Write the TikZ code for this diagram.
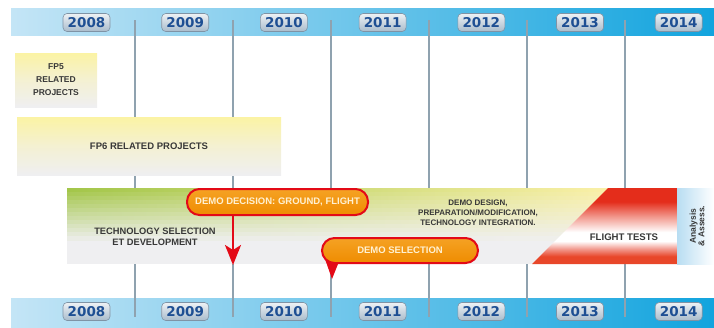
\documentclass[tikz,border=0pt]{standalone}
\usepackage{fontspec}
\setmainfont{Liberation Sans}
\newfontfamily\yearfont{DejaVu Sans}
\usetikzlibrary{arrows.meta}

\definecolor{bandlight}{HTML}{C4E5F6}
\definecolor{banddark}{HTML}{12A4DE}
\definecolor{yearblue}{HTML}{1E4F93}
\definecolor{yeartop}{HTML}{EDF1F5}
\definecolor{yearbot}{HTML}{A9BBCB}
\definecolor{yearedge}{HTML}{7F93A5}
\definecolor{gridgray}{HTML}{8FA2AF}
\definecolor{boxgray}{HTML}{EFEFF1}
\definecolor{fpyellow}{HTML}{FBF3A4}
\definecolor{bargreen}{HTML}{A3C64A}
\definecolor{baryellow}{HTML}{FAF0A8}
\definecolor{pillorange}{HTML}{EF8C00}
\definecolor{pilllight}{HTML}{F5A224}
\definecolor{pillred}{HTML}{E30A17}
\definecolor{pilltext}{HTML}{FFF1D2}
\definecolor{ftred}{HTML}{E42D1B}
\definecolor{ftbot}{HTML}{E8472A}
\definecolor{ftmid}{HTML}{F29A8F}
\definecolor{txtgray}{HTML}{383838}
\definecolor{anablue}{HTML}{B8DDF2}

\pgfdeclareverticalshading{flightshade}{100bp}{color(0bp)=(ftbot); color(25bp)=(ftbot); color(30bp)=(ftbot); color(35bp)=(ftmid); color(40bp)=(white); color(46bp)=(white); color(56bp)=(ftmid); color(66bp)=(ftred); color(100bp)=(ftred)}

\begin{document}
\begin{tikzpicture}[x=1pt,y=-1pt,
	yearbox/.style={draw=yearedge,line width=0.6pt,rounded corners=4pt,top color=yeartop,bottom color=yearbot,
		minimum width=47pt,minimum height=18pt,inner sep=0pt,text=yearblue,font=\yearfont\bfseries\fontsize{13.5}{14}\selectfont},
	gridline/.style={draw=gridgray,line width=1.1pt},
	fpbox/.style={top color=fpyellow,bottom color=boxgray,middle color=boxgray!60!fpyellow,inner sep=0pt,
		text=txtgray,align=center,font=\bfseries\fontsize{9.5}{13}\selectfont},
	bartext/.style={text=txtgray,align=center,font=\bfseries\fontsize{9.3}{10.5}\selectfont},
	pill/.style={draw=pillred,line width=2pt,rounded corners=12.5pt,top color=pilllight,bottom color=pillorange,
		inner sep=0pt,text=pilltext,font=\bfseries\fontsize{9.5}{10}\selectfont},
	redarrow/.style={draw=pillred,line width=2.2pt,-{Stealth[length=20pt,width=16pt,inset=5pt]}}]
	\useasboundingbox (0,0) rectangle (714,327);
	% time bands
	\fill[left color=bandlight,right color=banddark] (11,8) rectangle (714,35);
	\fill[left color=bandlight,right color=banddark] (11,298) rectangle (714,327);
	\foreach \i in {1,...,6}{
		\coordinate (gt_\i) at ({135+98*(\i-1)},20);
		\coordinate (gb_\i) at ({135+98*(\i-1)},317);
		\draw[gridline] (gt_\i) -- (gb_\i);
	}
	\foreach \yr [count=\i] in {2008,2009,2010,2011,2012,2013,2014}{
		\node[yearbox] (yt_\i) at ({86.5+98.7*(\i-1)},22.5) {\yr};
		\node[yearbox] (yb_\i) at ({86.5+98.7*(\i-1)},311.5) {\yr};
	}
	% projects
	\node[fpbox,minimum width=82pt,minimum height=54pt,font=\bfseries\fontsize{8.5}{13}\selectfont] (fp_5) at (56,80) {FP5\\RELATED\\PROJECTS};
	\node[fpbox,minimum width=264pt,minimum height=58pt] (fp_6) at (149,146) {FP6 RELATED PROJECTS};
	% main bar
	\fill[boxgray] (67,188) rectangle (677,264);
	\foreach \k in {0,...,12}{
		\pgfmathtruncatemacro{\p}{100-100*\k/13}
		\fill[left color=bargreen!\p!boxgray,middle color=white!\p!boxgray,right color=baryellow!\p!boxgray]
			(67,{188+4*\k}) rectangle (608,{192.6+4*\k});
	}
	\shade[shading=flightshade] (608,188) -- (677,188) -- (677,264) -- (532,264) -- cycle;
	\fill[left color=anablue,right color=white] (677,188) rectangle (714,264);
	\node[bartext] (tech) at (155,237) {TECHNOLOGY SELECTION\\ET DEVELOPMENT};
	\node[bartext,font=\bfseries\fontsize{8}{10}\selectfont] (design) at (478,213) {DEMO DESIGN,\\PREPARATION/MODIFICATION,\\TECHNOLOGY INTEGRATION.};
	\node[bartext,font=\bfseries\fontsize{9.6}{10}\selectfont] (flight) at (624,237) {FLIGHT TESTS};
	\node[bartext,rotate=90,font=\bfseries\fontsize{8.5}{8.5}\selectfont] (assess) at (697,226) {Analysis\\\& Assess.};
	% milestones
	\node[pill,minimum width=181pt,minimum height=26pt] (dd) at (277.5,202) {DEMO DECISION: GROUND, FLIGHT};
	\coordinate (dd_tip) at (233,265);
	\draw[redarrow] (dd_tip |- dd.south) -- (dd_tip);
	\coordinate (ds_tip) at (332,279);
	\fill[pillred] (325,259) -- (ds_tip) -- (340,259) -- cycle;
	\node[pill,minimum width=156pt,minimum height=25pt] (ds) at (400,250.5) {DEMO SELECTION};
\end{tikzpicture}
\end{document}
